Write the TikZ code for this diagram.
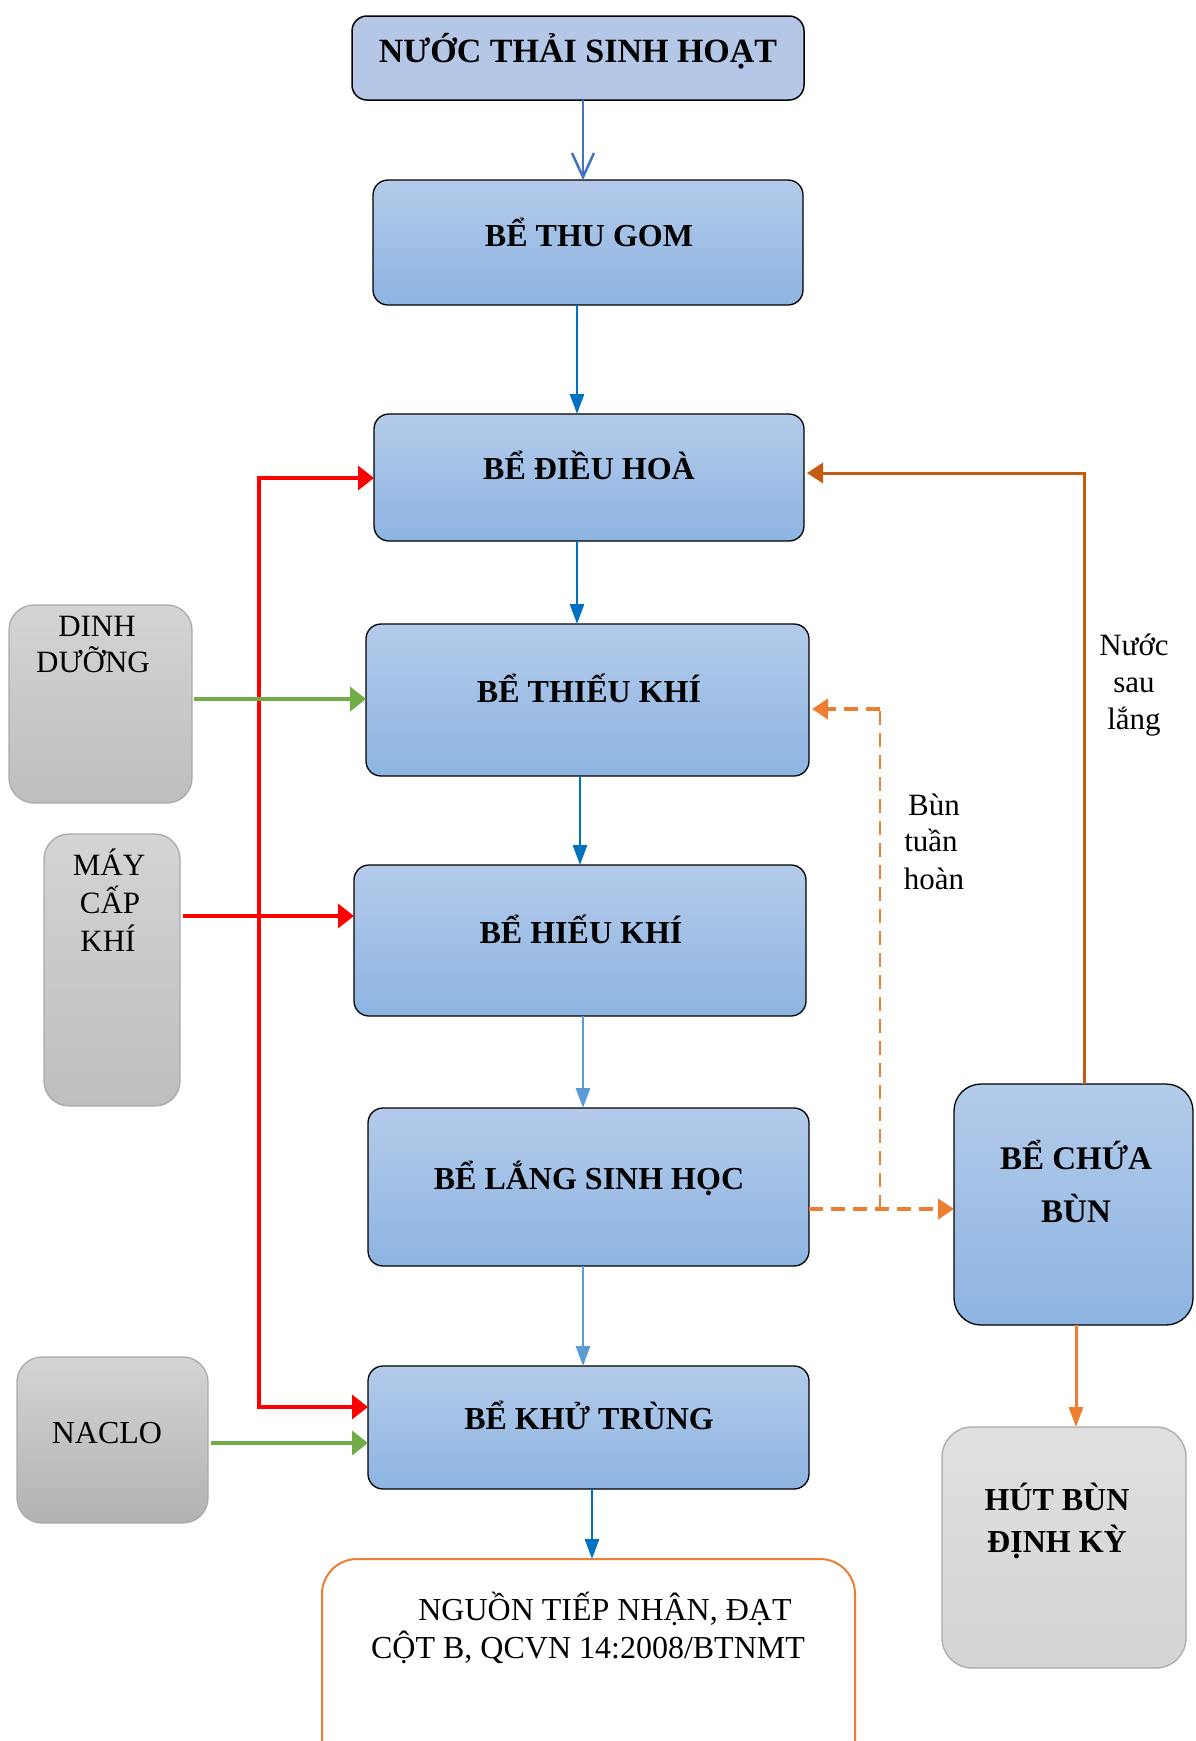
\documentclass[tikz,border=0pt]{standalone}
\usepackage{fontspec}
\setmainfont{Liberation Serif}
\usetikzlibrary{arrows.meta,calc}
\definecolor{bTop}{RGB}{180,203,234}
\definecolor{bBot}{RGB}{141,180,226}
\definecolor{srcC}{RGB}{180,199,231}
\definecolor{gTop}{RGB}{212,212,212}
\definecolor{gBot}{RGB}{190,190,190}
\definecolor{gLine}{RGB}{170,170,170}
\definecolor{hutC}{RGB}{217,217,217}
\definecolor{arA}{RGB}{68,114,196}
\definecolor{arB}{RGB}{0,112,192}
\definecolor{arC}{RGB}{91,155,213}
\definecolor{redC}{RGB}{255,0,0}
\definecolor{greenC}{RGB}{112,173,71}
\definecolor{orC}{RGB}{237,125,49}
\definecolor{orD}{RGB}{197,90,17}
\tikzset{
  bluebox/.style={draw=black, line width=1.3pt, rounded corners=15pt, top color=bTop, bottom color=bBot, inner sep=0pt, outer sep=0pt},
  graybox/.style={draw=gLine, line width=1.3pt, rounded corners=25pt, top color=gTop, bottom color=gBot, inner sep=0pt, outer sep=0pt},
  btxt/.style={font=\fontsize{32}{38}\selectfont\bfseries, anchor=base, inner sep=0pt},
  rtxt/.style={font=\fontsize{31}{37}\selectfont, anchor=base, inner sep=0pt},
  bluearrow/.style={line width=2.8pt, -{Triangle[length=20pt,width=14pt]}},
  redarrow/.style={draw=redC, line width=3.5pt},
  greenarrow/.style={draw=greenC, line width=4pt, -{Triangle[length=16pt,width=24pt]}},
  orsolid/.style={draw=orD, line width=3pt},
  ordash/.style={draw=orC, dash pattern=on 14pt off 8pt}
}
\begin{document}
\begin{tikzpicture}[x=1pt,y=-1pt]
\useasboundingbox (0,0) rectangle (1195,1741);
\clip (0,0) rectangle (1195,1741);
\fill[white] (0,0) rectangle (1195,1741);

% main boxes
\node[draw=black, line width=1.5pt, rounded corners=15pt, fill=srcC, inner sep=0pt, outer sep=0pt, minimum width=452pt, minimum height=84pt] (src) at (578,58) {};
\node[bluebox, minimum width=430pt, minimum height=125pt] (thu) at (588,242.5) {};
\node[bluebox, minimum width=430pt, minimum height=127pt] (dieu) at (589,477.5) {};
\node[bluebox, minimum width=443pt, minimum height=152pt] (thieu) at (587.5,700) {};
\node[bluebox, minimum width=452pt, minimum height=151pt] (hieu) at (580,940.5) {};
\node[bluebox, minimum width=441pt, minimum height=158pt] (lang) at (588.5,1187) {};
\node[bluebox, minimum width=441pt, minimum height=123pt] (khu) at (588.5,1427.5) {};
\node[bluebox, rounded corners=27pt, minimum width=239pt, minimum height=241pt] (cb) at (1073.5,1204.5) {};
\node[draw=orC, line width=2pt, rounded corners=35pt, fill=white, inner sep=0pt, outer sep=0pt, minimum width=533pt, minimum height=260pt] (nguon) at (588.5,1689) {};

% side boxes
\node[graybox, minimum width=183pt, minimum height=198pt] (dinh) at (100.5,704) {};
\node[graybox, minimum width=136pt, minimum height=272pt] (may) at (112,970) {};
\node[graybox, top color=gTop, bottom color={rgb,255:red,178;green,178;blue,178}, minimum width=191pt, minimum height=166pt] (naclo) at (112.5,1440) {};
\node[draw=gLine, line width=1.3pt, rounded corners=30pt, top color={rgb,255:red,224;green,224;blue,224}, bottom color={rgb,255:red,212;green,212;blue,212}, inner sep=0pt, outer sep=0pt, minimum width=244pt, minimum height=241pt] (hut) at (1064,1547.5) {};

% texts
\node[btxt, font=\fontsize{34}{40}\selectfont\bfseries] (srcT) at (578,62) {NƯỚC THẢI SINH HOẠT};
\node[btxt] (thuT) at (589,246) {BỂ THU GOM};
\node[btxt] (dieuT) at (589,479) {BỂ ĐIỀU HOÀ};
\node[btxt] (thieuT) at (589,702) {BỂ THIẾU KHÍ};
\node[btxt] (hieuT) at (581,943) {BỂ HIẾU KHÍ};
\node[btxt] (langT) at (589,1189) {BỂ LẮNG SINH HỌC};
\node[btxt] (khuT) at (589,1429) {BỂ KHỬ TRÙNG};
\node[btxt, font=\fontsize{33}{38}\selectfont\bfseries] (cbT1) at (1076,1169) {BỂ CHỨA};
\node[btxt, font=\fontsize{33}{38}\selectfont\bfseries] (cbT2) at (1076,1222) {BÙN};
\node[btxt] (hutT1) at (1057,1510) {HÚT BÙN};
\node[btxt] (hutT2) at (1057,1552) {ĐỊNH KỲ};
\node[rtxt, font=\fontsize{32}{38}\selectfont] (ng1) at (605,1620) {NGUỒN TIẾP NHẬN, ĐẠT};
\node[rtxt, font=\fontsize{32}{38}\selectfont] (ng2) at (588,1658) {CỘT B, QCVN 14:2008/BTNMT};
\node[rtxt, font=\fontsize{32}{38}\selectfont] (nacloT) at (107,1443) {NACLO};
\node[rtxt] (dinh1) at (97,636) {DINH};
\node[rtxt] (dinh2) at (93,672) {DƯỠNG};
\node[rtxt] (may1) at (109,875) {MÁY};
\node[rtxt] (may2) at (110,913) {CẤP};
\node[rtxt] (may3) at (108,951) {KHÍ};
\node[rtxt] (nuoc1) at (1134,655) {Nước};
\node[rtxt] (nuoc2) at (1134,692) {sau};
\node[rtxt] (nuoc3) at (1134,729) {lắng};
\node[rtxt] (bun1) at (934,815) {Bùn};
\node[rtxt] (bun2) at (931,851) {tuần};
\node[rtxt] (bun3) at (934,889) {hoàn};

% main flow arrows
\draw[draw=arA, line width=2.5pt, -{Straight Barb[length=24pt,width=22pt,line width=2.5pt]}] ([xshift=5pt]src.south) -- ([xshift=5pt]src.south |- thu.north);
\draw[bluearrow, draw=arB] ([xshift=-11pt]thu.south) -- ([xshift=-11pt]thu.south |- dieu.north);
\draw[bluearrow, draw=arB] ([xshift=-12pt]dieu.south) -- ([xshift=-12pt]dieu.south |- thieu.north);
\draw[bluearrow, draw=arB] ([xshift=-7.5pt]thieu.south) -- ([xshift=-7.5pt]thieu.south |- hieu.north);
\draw[bluearrow, draw=arC] ([xshift=3pt]hieu.south) -- ([xshift=3pt]hieu.south |- lang.north);
\draw[bluearrow, draw=arC] ([xshift=-5.5pt]lang.south) -- ([xshift=-5.5pt]lang.south |- khu.north);
\draw[bluearrow, draw=arB] ([xshift=3.5pt]khu.south) -- ([xshift=3.5pt]khu.south |- nguon.north);

% red air line
\coordinate (rtop) at (259,478);
\coordinate (rbot) at (259,1407);
\draw[redarrow, {Triangle[length=16pt,width=24pt]}-{Triangle[length=16pt,width=24pt]}] (rtop -| dieu.west) -- (rtop) -- (rbot) -- (rbot -| khu.west);
\draw[redarrow, -{Triangle[length=16pt,width=24pt]}] ([xshift=3pt,yshift=54pt]may.east) -- ([yshift=54pt]may.east -| hieu.west);

% green feeds
\draw[greenarrow] ([xshift=2pt,yshift=5pt]dinh.east) -- ([yshift=5pt]dinh.east -| thieu.west);
\draw[greenarrow] ([xshift=3pt,yshift=-3pt]naclo.east) -- ([yshift=-3pt]naclo.east -| khu.west);

% return of settled water
\coordinate (oc) at (1084,473);
\draw[orsolid, -{Triangle[length=16pt,width=20pt]}] ([xshift=10.5pt]cb.north) -- (oc) -- ([xshift=3pt]oc -| dieu.east);

% sludge lines
\coordinate (sp) at (880,1209);
\coordinate (tp) at (880,709);
\draw[ordash, line width=4pt, -{Triangle[length=16pt,width=20pt]}] (lang.east |- sp) -- (sp -| cb.west);
\draw[ordash, line width=2.5pt] (sp) -- (tp);
\draw[ordash, line width=4pt, -{Triangle[length=16pt,width=20pt]}] (tp) -- ([xshift=3pt]tp -| thieu.east);
\draw[draw=orC, line width=3pt, -{Triangle[length=20pt,width=14pt]}] ([xshift=2.5pt]cb.south) -- ([xshift=2.5pt]cb.south |- hut.north);
\end{tikzpicture}
\end{document}
